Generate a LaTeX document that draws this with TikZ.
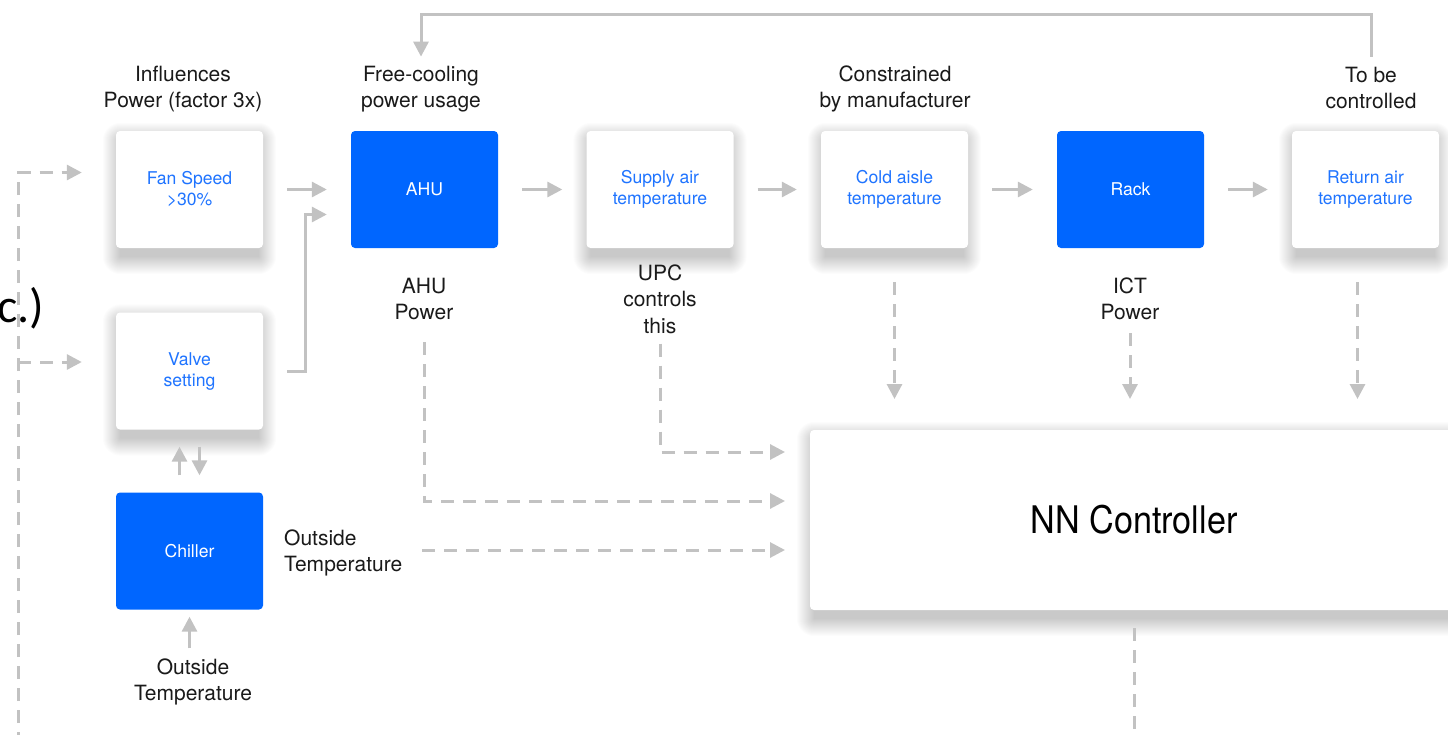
\documentclass[tikz,border=0pt]{standalone}
\usepackage{fontspec}
\setmainfont{TeX Gyre Heros}
\newfontfamily\cfont{Carlito}
\usetikzlibrary{arrows.meta,calc,backgrounds}
\definecolor{ublue}{HTML}{0066FF}
\definecolor{utext}{HTML}{1F74FF}
\definecolor{ugray}{HTML}{C2C2C2}
\definecolor{ulabel}{HTML}{1A1A1A}
\newcommand\boxshadow[1]{%
  \foreach \r in {1,...,18}{%
    \fill[black, opacity=0.012, rounded corners=\r pt]
      ([shift={(5-\r,10-\r)}]#1.north west) rectangle ([shift={(-5+\r,8+\r)}]#1.south east);}}
\begin{document}
\begin{tikzpicture}[x=1pt,y=-1pt,
  card/.style={rectangle, rounded corners=4pt, fill=white, minimum width=147pt, minimum height=117pt, inner sep=0pt, text=utext, align=center, font=\fontsize{17.6}{21}\selectfont},
  bluecard/.style={rectangle, rounded corners=4pt, fill=ublue, minimum width=147pt, minimum height=117pt, inner sep=0pt, text=white, align=center, font=\fontsize{17.6}{21}\selectfont},
  lbl/.style={align=center, text=ulabel, inner sep=0pt, font=\fontsize{21}{26.5}\selectfont},
  sarr/.style={draw=ugray, line width=3pt, -{Triangle[length=15pt,width=15pt]}},
  darr/.style={sarr, dash pattern=on 13pt off 9pt},
  dline/.style={draw=ugray, line width=3pt, dash pattern=on 13pt off 9pt}]
\useasboundingbox (0,0) rectangle (1448,734);

% boxes
\node[card] (fan) at (189.5,189.5) {Fan Speed\\>30\%};
\node[card] (valve) at (189.5,371) {Valve\\setting};
\node[bluecard] (chiller) at (189.5,551) {Chiller};
\node[bluecard] (ahu) at (424.5,189.5) {AHU};
\node[card] (supply) at (660,189.5) {Supply air\\temperature};
\node[card] (cold) at (894.5,189.5) {Cold aisle\\temperature};
\node[bluecard] (rack) at (1130.5,189.5) {Rack};
\node[card] (ret) at (1365.5,189.5) {Return air\\temperature};
\node[card, minimum width=648pt, minimum height=180pt, text=black, font=\fontsize{38}{40}\selectfont] (nn) at (1134,520) {\scalebox{0.9}[1]{NN Controller}};

\begin{scope}[on background layer]
  \fill[white] (0,0) rectangle (1448,734);
  \boxshadow{fan}
  \boxshadow{valve}
  \boxshadow{supply}
  \boxshadow{cold}
  \boxshadow{ret}
  \boxshadow{nn}
\end{scope}

% labels
\node[lbl] (infl) at (183,89) {Influences\\Power (factor 3x)};
\node[lbl] (free) at (421,89) {Free-cooling\\power usage};
\node[lbl] (constr) at (895,89) {Constrained\\by manufacturer};
\node[lbl] (tobe) at (1371,88) {To be\\controlled};
\node[lbl] (ahupow) at (424,299) {AHU\\Power};
\node[lbl] (upc) at (660,299) {UPC\\controls\\this};
\node[lbl] (ict) at (1130,299) {ICT\\Power};
\node[lbl, align=left, anchor=west] (otr) at (284,553) {Outside\\Temperature};
\node[lbl] (otb) at (193,682) {Outside\\Temperature};
\node[font=\cfont\fontsize{48}{48}\selectfont, anchor=base west, inner sep=0pt, text=black] (etc) at (-3,322) {c.)};

% coordinates
\coordinate (topy) at (0,14);
\coordinate (in1) at (785,452);
\coordinate (in2) at (785,501);
\coordinate (in3) at (785,550);
\coordinate (dtip) at (0,399);
\coordinate (lb) at (18,745);
\coordinate (ftip) at ([xshift=-34pt,yshift=17pt]fan.west);
\coordinate (vtip) at ([xshift=-34pt,yshift=9pt]valve.west);

% solid connectors
\draw[sarr] ([yshift=10pt]tobe.north) |- (topy -| free.north) -- ([yshift=9pt]free.north);
\draw[sarr, shorten <=24pt, shorten >=24pt] (fan) -- (ahu);
\draw[sarr, shorten >=24pt] ([xshift=24pt]valve.east) -- ++(18,0) |- ([yshift=-25pt]ahu.west);
\draw[sarr, shorten <=24pt, shorten >=24pt] (ahu) -- (supply);
\draw[sarr, shorten <=24pt, shorten >=24pt] (supply) -- (cold);
\draw[sarr, shorten <=24pt, shorten >=24pt] (cold) -- (rack);
\draw[sarr, shorten <=24pt, shorten >=24pt] (rack) -- (ret);
\draw[sarr] ([xshift=-10pt,yshift=17pt]chiller.north) -- ([xshift=-10pt,yshift=-17pt]valve.south);
\draw[sarr] ([xshift=10pt,yshift=-17pt]valve.south) -- ([xshift=10pt,yshift=17pt]chiller.north);
\draw[sarr, shorten >=7pt] ([yshift=10pt]otb.north -| chiller.south) -- (chiller.south);

% dashed connectors
\draw[darr] ([yshift=-22pt]ahupow.south) |- (in2);
\draw[darr] ([yshift=-10pt]upc.south) |- (in1);
\draw[darr] ([xshift=20pt]otr.east |- in3) -- (in3);
\draw[darr] ([yshift=-34pt]cold.south) -- (cold.south |- dtip);
\draw[darr] ([yshift=-13pt]ict.south) -- (ict.south |- dtip);
\draw[darr] ([xshift=-8pt,yshift=-34pt]ret.south) -- ([xshift=-8pt]ret.south |- dtip);
\draw[dline] ([yshift=-18pt]nn.south) -- ++(0,140);
\draw[darr] (lb) |- (ftip);
\draw[darr] (lb |- vtip) -- (vtip);
\end{tikzpicture}
\end{document}
